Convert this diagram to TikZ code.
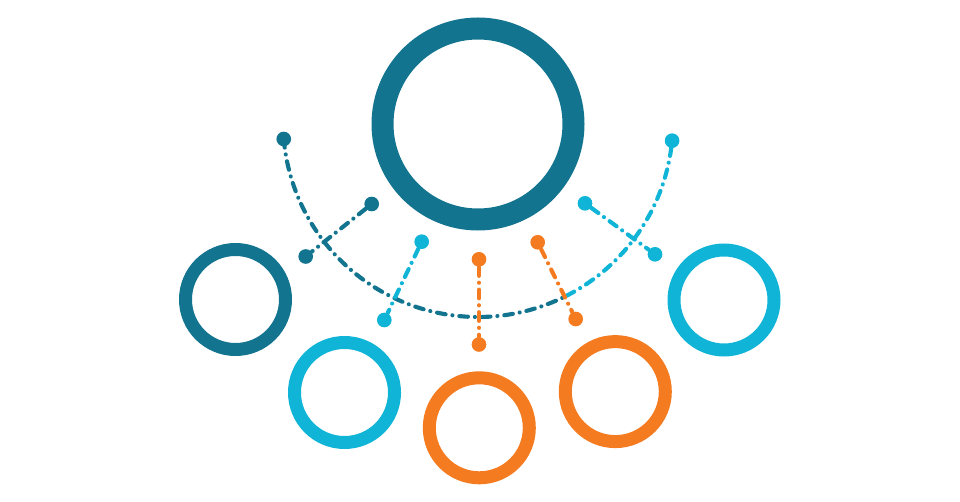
\documentclass[tikz,border=0pt]{standalone}
\usetikzlibrary{calc}
\definecolor{tealdark}{HTML}{13748F}
\definecolor{skycyan}{HTML}{10B4D6}
\definecolor{sunorange}{HTML}{F47B20}
\tikzset{every picture/.style={line width=0.75pt}}
\tikzset{
	ring/.style={circle,draw,inner sep=0pt,minimum size=75pt,line width=9.75pt},
	bigring/.style={ring,minimum size=143.25pt,line width=16.5pt},
	pin/.style={circle,fill,inner sep=0pt,minimum size=11pt},
	dashdotline/.style={line width=3.1pt,line cap=round,dash pattern=on 6.5pt off 5.2pt on 0.01pt off 5.2pt}
}

\begin{document}
\begin{tikzpicture}[x=0.75pt,y=0.75pt,yscale=-1,xscale=1]
		\useasboundingbox (0,0) rectangle (960,502);
		
		%Shape: Circle
		\node[bigring,tealdark] (hub) at (478,124) {};
		%Shape: Circle
		\node[ring,tealdark] (ringa) at (235.5,299.5) {};
		%Shape: Circle
		\node[ring,skycyan] (ringb) at (344.5,392.5) {};
		%Shape: Circle
		\node[ring,sunorange] (ringc) at (479.3,427.8) {};
		%Shape: Circle
		\node[ring,sunorange] (ringd) at (615.3,391.6) {};
		%Shape: Circle
		\node[ring,skycyan] (ringe) at (724,300) {};
		
		%Shape: Arc
		\coordinate (arcc) at (478,122);
		\node[pin,tealdark] (arcl) at ($(arcc)+(175:195)$) {};
		\node[pin,skycyan] (arcr) at ($(arcc)+(5.5:195)$) {};
		\coordinate (arcm) at ($(arcc)+(63:195)$);
		\draw[dashdotline,tealdark] (arcl.center) arc (175:63:195);
		\draw[dashdotline,skycyan] (arcm) arc (63:5.5:195);
		
		%Pins
		\node[pin,tealdark] (pina) at (371.7,204) {};
		\node[pin,tealdark] (pinb) at (305.7,256.5) {};
		\node[pin,skycyan] (pinc) at (421.7,241.7) {};
		\node[pin,skycyan] (pind) at (384.3,320) {};
		\node[pin,sunorange] (pine) at (479,259.3) {};
		\node[pin,sunorange] (pinf) at (479,344.5) {};
		\node[pin,sunorange] (ping) at (537.7,242.3) {};
		\node[pin,sunorange] (pinh) at (575.7,319) {};
		\node[pin,skycyan] (pini) at (585,203.3) {};
		\node[pin,skycyan] (pinj) at (655,254.3) {};
		
		%Straight Lines
		\draw[dashdotline,tealdark] (pina) -- (pinb);
		%Straight Lines
		\draw[dashdotline,skycyan] (pinc) -- (pind);
		%Straight Lines
		\draw[dashdotline,sunorange] (pine) -- (pinf);
		%Straight Lines
		\draw[dashdotline,sunorange] (ping) -- (pinh);
		%Straight Lines
		\draw[dashdotline,skycyan] (pini) -- (pinj);
\end{tikzpicture}
\end{document}
